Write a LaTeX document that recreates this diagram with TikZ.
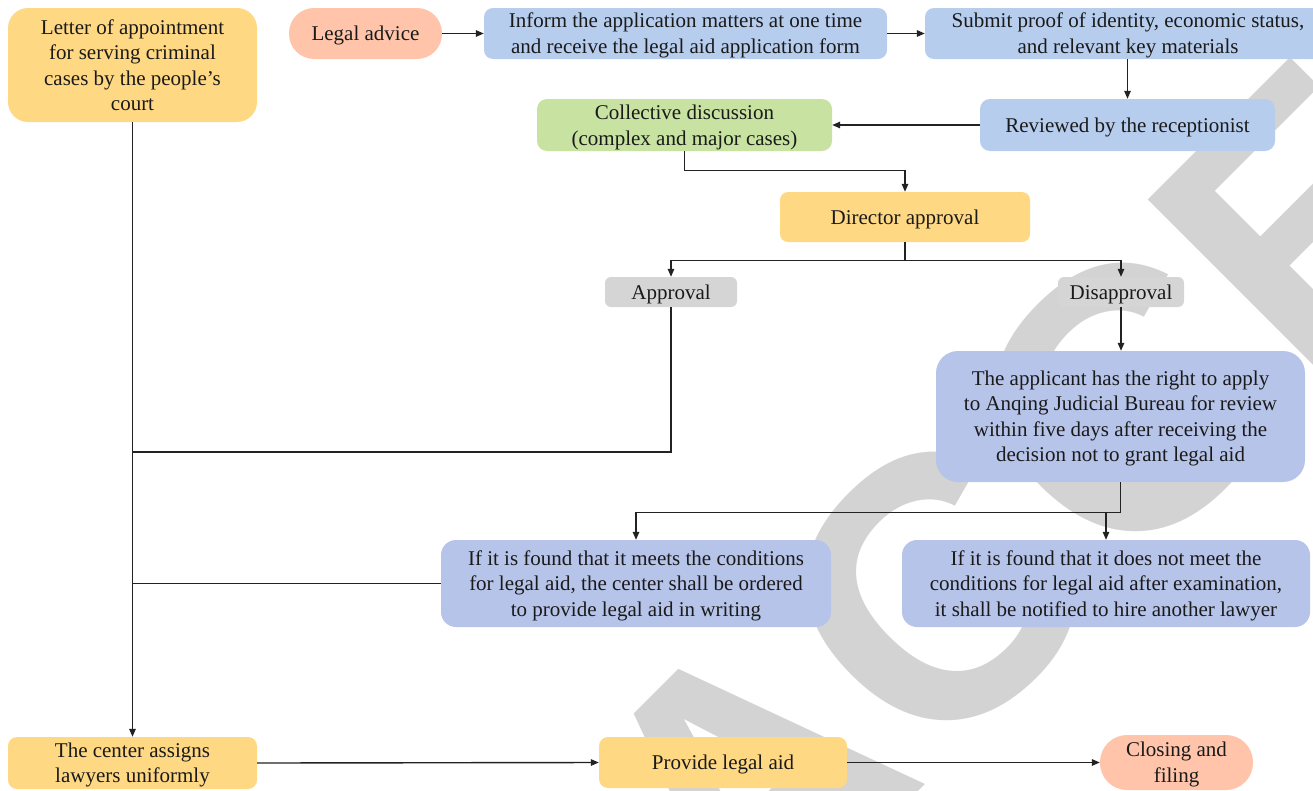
\documentclass[tikz,border=0pt]{standalone}
\usepackage{fontspec}
\setmainfont{Liberation Serif}
\newfontfamily\wmfont{Liberation Sans}
\usetikzlibrary{arrows.meta}
\definecolor{cyel}{HTML}{FFD883}
\definecolor{csal}{HTML}{FFC4AA}
\definecolor{cblue}{HTML}{B7CDEE}
\definecolor{cperi}{HTML}{B7C4EA}
\definecolor{cgreen}{HTML}{C7E2A1}
\definecolor{cgray}{HTML}{D5D5D5}
\definecolor{cwm}{HTML}{D3D3D3}
\definecolor{ctxt}{HTML}{1A1A1A}
\definecolor{cline}{HTML}{222222}
\newcommand{\tup}{\rule{0pt}{19pt}}
\begin{document}
\begin{tikzpicture}[x=1pt,y=-1pt,
  box/.style={draw=none, align=center, inner sep=0pt, text=ctxt,
    font=\fontsize{21}{25.5}\selectfont},
  conn/.style={line width=1.4pt, draw=cline},
  arr/.style={conn, -{Triangle[length=8pt,width=6.5pt]}}]
\useasboundingbox (0,0) rectangle (1313,790);
% watermark
\node[rotate=45, anchor=base west, text=cwm, inner sep=0pt,
  font=\wmfont\bfseries\fontsize{372}{372}\selectfont] (wm) at (742,968)
  {ACCEPTED};
% boxes
\node[box, fill=cyel, rounded corners=20pt, minimum width=249pt, minimum height=114pt] (letter) at (132.5,65)
  {Letter of appointment\\for serving criminal\\cases by the people’s\\court};
\node[box, fill=csal, rounded corners=25pt, minimum width=153pt, minimum height=51pt] (legal) at (365.5,33.5)
  {\tup Legal advice};
\node[box, fill=cblue, rounded corners=9pt, minimum width=403pt, minimum height=51pt] (inform) at (685.5,33.5)
  {\tup Inform the application matters at one time\\and receive the legal aid application form};
\node[box, fill=cblue, rounded corners=9pt, minimum width=406pt, minimum height=51pt] (submit) at (1128,33.5)
  {\tup Submit proof of identity, economic status,\\and relevant key materials};
\node[box, fill=cblue, rounded corners=10pt, minimum width=295pt, minimum height=52pt] (reviewed) at (1127.5,125)
  {\tup Reviewed by the receptionist};
\node[box, fill=cgreen, rounded corners=10pt, minimum width=295pt, minimum height=52pt] (collective) at (684.5,125)
  {\tup Collective discussion\\(complex and major cases)};
\node[box, fill=cyel, rounded corners=8pt, minimum width=250pt, minimum height=50pt] (director) at (905,217)
  {\tup Director approval};
\node[box, fill=cgray, rounded corners=6pt, minimum width=132pt, minimum height=30pt] (approval) at (671,292)
  {\tup Approval};
\node[box, fill=cgray, rounded corners=6pt, minimum width=126pt, minimum height=30pt] (disapproval) at (1121,292)
  {\tup Disapproval};
\node[box, fill=cperi, rounded corners=22pt, minimum width=369pt, minimum height=131pt] (applicant) at (1120.5,416.5)
  {\tup The applicant has the right to apply\\to Anqing Judicial Bureau for review\\within five days after receiving the\\decision not to grant legal aid};
\node[box, fill=cperi, rounded corners=15pt, minimum width=390pt, minimum height=87pt] (meets) at (636,583.5)
  {\tup If it is found that it meets the conditions\\for legal aid, the center shall be ordered\\to provide legal aid in writing};
\node[box, fill=cperi, rounded corners=15pt, minimum width=408pt, minimum height=87pt] (notmeet) at (1106,583.5)
  {\tup If it is found that it does not meet the\\conditions for legal aid after examination,\\it shall be notified to hire another lawyer};
\node[box, fill=cyel, rounded corners=9pt, minimum width=249pt, minimum height=52pt] (assigns) at (132.5,763)
  {\tup The center assigns\\lawyers uniformly};
\node[box, fill=cyel, rounded corners=9pt, minimum width=248pt, minimum height=51pt] (provide) at (723,762.5)
  {\tup Provide legal aid};
\node[box, fill=csal, rounded corners=27pt, minimum width=153pt, minimum height=55pt] (closing) at (1176.5,762.5)
  {\tup Closing and\\filing};
% connectors
\draw[arr] (legal.east) -- (inform.west);
\draw[arr] (inform.east) -- (submit.west);
\draw[arr] (reviewed.north |- submit.south) -- (reviewed.north);
\draw[arr] (reviewed.west) -- (collective.east);
\draw[arr] (collective.south) -- ++(0,19) -| (director.north);
\draw[conn] (director.south) -- ++(0,18) coordinate (dj);
\draw[arr] (dj) -| (approval.north);
\draw[arr] (dj) -| (disapproval.north);
\draw[arr] (disapproval.south) -- (disapproval.south |- applicant.north);
\coordinate (j1) at (132.5,452);
\draw[conn] (approval.south) |- (j1);
\draw[conn] (applicant.south) -- ++(0,30) coordinate (aj);
\draw[arr] (aj) -| (meets.north);
\draw[arr] (notmeet.north |- aj) -- (notmeet.north);
\draw[conn] (meets.west) -- (meets.west -| letter.south);
\draw[arr] (letter.south) -- (assigns.north);
\draw[arr] (assigns.east) -- (provide.west);
\draw[arr] (provide.east) -- (closing.west);
\end{tikzpicture}
\end{document}
